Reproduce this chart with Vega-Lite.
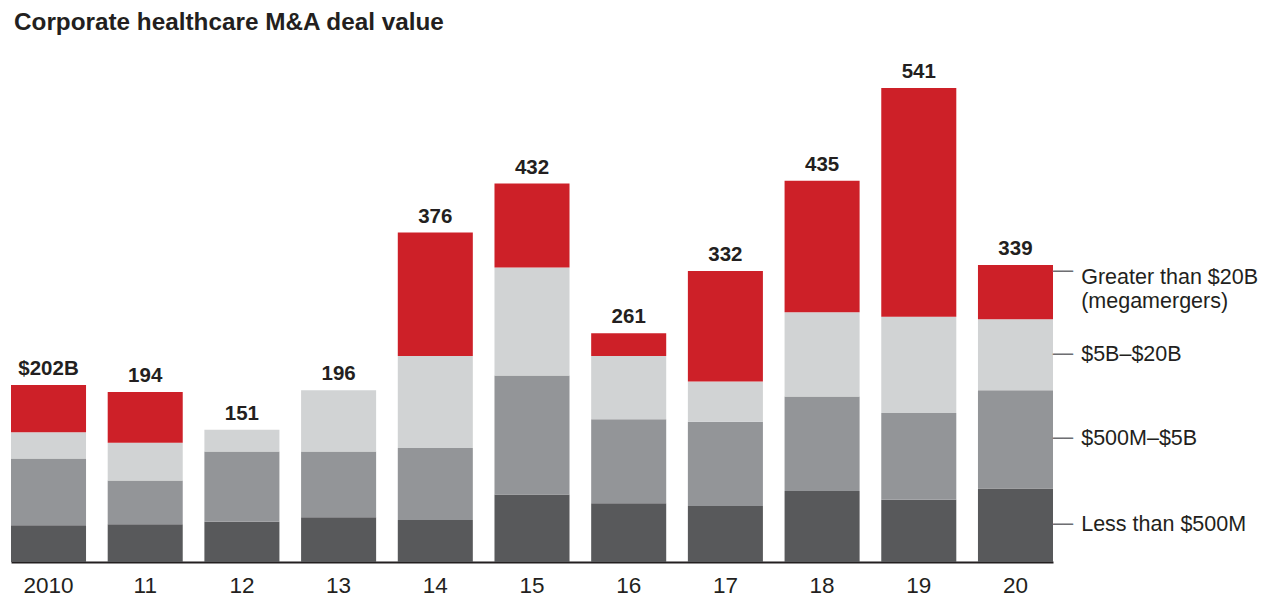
{
  "$schema": "https://vega.github.io/schema/vega-lite/v6.json",
  "width": 1042,
  "height": 474,
  "autosize": {"type": "none"},
  "padding": {"left": 11, "top": 88, "right": 217, "bottom": 35},
  "background": "white",
  "title": {
    "text": "Corporate healthcare M&A deal value",
    "anchor": "start",
    "frame": "group",
    "font": "Liberation Sans",
    "fontSize": 24.3,
    "fontWeight": "bold",
    "color": "#231f20",
    "baseline": "alphabetic",
    "dx": 3,
    "offset": 8
  },
  "config": {"view": {"stroke": null}, "font": "Liberation Sans"},
  "data": {
    "values": [
      {"year": "2010", "size": "Less than $500M", "value": 42},
      {"year": "2010", "size": "$500M–$5B", "value": 76},
      {"year": "2010", "size": "$5B–$20B", "value": 30},
      {"year": "2010", "size": "Greater than $20B", "value": 54},
      {"year": "11", "size": "Less than $500M", "value": 43},
      {"year": "11", "size": "$500M–$5B", "value": 50},
      {"year": "11", "size": "$5B–$20B", "value": 43},
      {"year": "11", "size": "Greater than $20B", "value": 58},
      {"year": "12", "size": "Less than $500M", "value": 46},
      {"year": "12", "size": "$500M–$5B", "value": 80},
      {"year": "12", "size": "$5B–$20B", "value": 25},
      {"year": "12", "size": "Greater than $20B", "value": 0},
      {"year": "13", "size": "Less than $500M", "value": 51},
      {"year": "13", "size": "$500M–$5B", "value": 75},
      {"year": "13", "size": "$5B–$20B", "value": 70},
      {"year": "13", "size": "Greater than $20B", "value": 0},
      {"year": "14", "size": "Less than $500M", "value": 48},
      {"year": "14", "size": "$500M–$5B", "value": 82},
      {"year": "14", "size": "$5B–$20B", "value": 105},
      {"year": "14", "size": "Greater than $20B", "value": 141},
      {"year": "15", "size": "Less than $500M", "value": 77},
      {"year": "15", "size": "$500M–$5B", "value": 136},
      {"year": "15", "size": "$5B–$20B", "value": 123},
      {"year": "15", "size": "Greater than $20B", "value": 96},
      {"year": "16", "size": "Less than $500M", "value": 67},
      {"year": "16", "size": "$500M–$5B", "value": 96},
      {"year": "16", "size": "$5B–$20B", "value": 72},
      {"year": "16", "size": "Greater than $20B", "value": 26},
      {"year": "17", "size": "Less than $500M", "value": 64},
      {"year": "17", "size": "$500M–$5B", "value": 96},
      {"year": "17", "size": "$5B–$20B", "value": 46},
      {"year": "17", "size": "Greater than $20B", "value": 126},
      {"year": "18", "size": "Less than $500M", "value": 81},
      {"year": "18", "size": "$500M–$5B", "value": 108},
      {"year": "18", "size": "$5B–$20B", "value": 96},
      {"year": "18", "size": "Greater than $20B", "value": 150},
      {"year": "19", "size": "Less than $500M", "value": 71},
      {"year": "19", "size": "$500M–$5B", "value": 99},
      {"year": "19", "size": "$5B–$20B", "value": 110},
      {"year": "19", "size": "Greater than $20B", "value": 261},
      {"year": "20", "size": "Less than $500M", "value": 84},
      {"year": "20", "size": "$500M–$5B", "value": 112},
      {"year": "20", "size": "$5B–$20B", "value": 81},
      {"year": "20", "size": "Greater than $20B", "value": 62}
    ]
  },
  "transform": [
    {"calculate": "indexof(['Less than $500M', '$500M–$5B', '$5B–$20B', 'Greater than $20B'], datum.size)", "as": "k"}
  ],
  "encoding": {
    "x": {
      "field": "year",
      "type": "nominal",
      "sort": null,
      "scale": {
        "domain": ["2010", "11", "12", "13", "14", "15", "16", "17", "18", "19", "20"],
        "paddingInner": 0.224,
        "paddingOuter": 0
      },
      "axis": {
        "title": null,
        "labelAngle": 0,
        "ticks": false,
        "grid": false,
        "domainColor": "#231f20",
        "domainWidth": 2,
        "labelFont": "Liberation Sans",
        "labelFontSize": 22.5,
        "labelColor": "#231f20",
        "labelPadding": 12
      }
    }
  },
  "layer": [
    {
      "mark": {"type": "bar"},
      "encoding": {
        "y": {"field": "value", "type": "quantitative", "stack": "zero", "scale": {"domain": [0, 541], "nice": false, "zero": true}, "axis": null},
        "color": {
          "field": "size",
          "type": "nominal",
          "scale": {
            "domain": ["Less than $500M", "$500M–$5B", "$5B–$20B", "Greater than $20B"],
            "range": ["#58595b", "#939598", "#d1d3d4", "#cd2028"]
          },
          "legend": null
        },
        "order": {"field": "k", "type": "quantitative"}
      }
    },
    {
      "transform": [
        {"aggregate": [{"op": "sum", "field": "value", "as": "total"}], "groupby": ["year"]},
        {"calculate": "datum.year === '2010' ? '$' + datum.total + 'B' : '' + datum.total", "as": "label"}
      ],
      "mark": {"type": "text", "baseline": "alphabetic", "dy": -10, "font": "Liberation Sans", "fontSize": 20.5, "fontWeight": "bold", "color": "#231f20"},
      "encoding": {
        "y": {"field": "total", "type": "quantitative", "scale": {"domain": [0, 541], "nice": false, "zero": true}},
        "text": {"field": "label", "type": "nominal"}
      }
    },
    {
      "transform": [{"filter": "datum.year === '20'"}],
      "mark": {"type": "text", "align": "left", "baseline": "middle", "dx": 37.6, "font": "DejaVu Sans Mono", "fontSize": 16.6, "color": "#6d6e71"},
      "encoding": {
        "y": {"field": "value", "type": "quantitative", "stack": "zero", "bandPosition": 0.5, "scale": {"domain": [0, 541], "nice": false, "zero": true}},
        "detail": {"field": "size"},
        "order": {"field": "k", "type": "quantitative"},
        "text": {"condition": {"test": "datum.size !== 'Greater than $20B'", "value": "──"}, "value": ""}
      }
    },
    {
      "transform": [{"filter": "datum.year === '20'"}],
      "mark": {"type": "text", "align": "left", "baseline": "middle", "dx": 65.7, "font": "Liberation Sans", "fontSize": 21.5, "color": "#231f20"},
      "encoding": {
        "y": {"field": "value", "type": "quantitative", "stack": "zero", "bandPosition": 0.5, "scale": {"domain": [0, 541], "nice": false, "zero": true}},
        "detail": {"field": "size"},
        "order": {"field": "k", "type": "quantitative"},
        "text": {"condition": {"test": "datum.size !== 'Greater than $20B'", "field": "size"}, "value": ""}
      }
    },
    {
      "transform": [{"filter": "datum.year === '20'"}],
      "mark": {"type": "text", "align": "left", "baseline": "middle", "dx": 37.6, "font": "DejaVu Sans Mono", "fontSize": 16.6, "color": "#6d6e71"},
      "encoding": {
        "y": {"field": "value", "type": "quantitative", "stack": "zero", "bandPosition": 0.87, "scale": {"domain": [0, 541], "nice": false, "zero": true}},
        "detail": {"field": "size"},
        "order": {"field": "k", "type": "quantitative"},
        "text": {"condition": {"test": "datum.size === 'Greater than $20B'", "value": "──"}, "value": ""}
      }
    },
    {
      "transform": [{"filter": "datum.year === '20'"}],
      "mark": {"type": "text", "align": "left", "baseline": "top", "dx": 65.7, "dy": -5, "lineHeight": 24, "font": "Liberation Sans", "fontSize": 21.5, "color": "#231f20"},
      "encoding": {
        "y": {"field": "value", "type": "quantitative", "stack": "zero", "bandPosition": 0.87, "scale": {"domain": [0, 541], "nice": false, "zero": true}},
        "detail": {"field": "size"},
        "order": {"field": "k", "type": "quantitative"},
        "text": {"condition": {"test": "datum.size === 'Greater than $20B'", "value": ["Greater than $20B", "(megamergers)"]}, "value": ""}
      }
    }
  ]
}
